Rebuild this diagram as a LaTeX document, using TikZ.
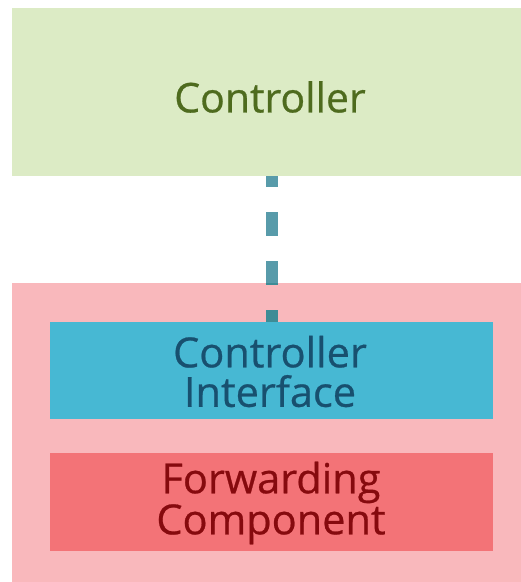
\documentclass[tikz,border=0pt]{standalone}
\usepackage{fontspec}
\setmainfont{Open Sans}[BoldFont={Open Sans},BoldFeatures={FakeBold=0.6}]
\definecolor{ctrlfill}{HTML}{DCEBC5}
\definecolor{ctrltext}{HTML}{4E6B1E}
\definecolor{swfill}{HTML}{F9B8BC}
\definecolor{ifill}{HTML}{47B8D3}
\definecolor{itext}{HTML}{18506F}
\definecolor{ffill}{HTML}{F37377}
\definecolor{ftext}{HTML}{860A0E}
\definecolor{linkA}{HTML}{589BAA}
\definecolor{linkB}{HTML}{3E8C96}
\begin{document}
\begin{tikzpicture}[x=1pt,y=-1pt,
  panel/.style={anchor=north west,inner sep=0pt,outer sep=0pt,draw=none},
  label/.style={inner sep=0pt,align=center,font=\bfseries\fontsize{41.5}{39.5}\selectfont},
  link/.style={line width=12.5pt,dash pattern=on 24pt off 25pt}]
\useasboundingbox (0,0) rectangle (521,582);
% switch body
\node[panel,fill=swfill,minimum width=509pt,minimum height=299pt] (sw) at (12,283) {};
% control channel between controller and interface
\coordinate (top) at (272,163);
\coordinate (bot) at (272,334);
\draw[link,draw=linkA] (top) -- (bot);
\begin{scope}
  \clip (sw.north west) rectangle (sw.south east);
  \draw[link,draw=linkB] (top) -- (bot);
\end{scope}
% controller
\node[panel,fill=ctrlfill,minimum width=509pt,minimum height=168pt] (ctrl) at (12,8) {};
\node[label,text=ctrltext,font=\bfseries\fontsize{41}{41}\selectfont] (ctrltxt) at (270,97) {Controller};
% controller interface
\node[panel,fill=ifill,minimum width=443pt,minimum height=97pt] (iface) at (50,322) {};
\node[label,text=itext] (ifacetxt) at (270,371.5) {Controller\\Interface};
% forwarding component
\node[panel,fill=ffill,minimum width=443pt,minimum height=98pt] (fwd) at (50,453) {};
\node[label,text=ftext] (fwdtxt) at (271,503) {Forwarding\\Component};
\end{tikzpicture}
\end{document}
